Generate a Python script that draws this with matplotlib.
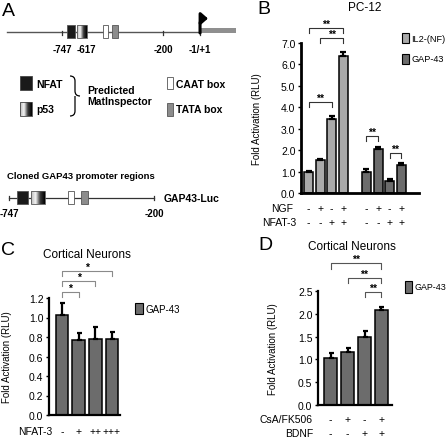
import numpy as np
import matplotlib
matplotlib.use('Agg')
import matplotlib.pyplot as plt
from matplotlib.patches import Rectangle, FancyArrowPatch, PathPatch
from matplotlib.path import Path
from matplotlib.colors import LinearSegmentedColormap

plt.rcParams['font.family'] = ['Liberation Sans', 'DejaVu Sans']

# ---------------- data ----------------
element_names = ['NFAT', 'p53', 'CAAT box', 'TATA box']
element_start = [-718, -664, -526, -476]
element_end = [-676, -612, -500, -447]
site_ticks = [-747, -617, -200, -1]
site_labels = ['-747', '-617', '-200', '-1/+1']
promoter_start = -1044
transcript_end = 193
cloned_range = [-747, -200]
cloned_labels = ['-747', '-200']

b_series = ['IL2-(NF)', 'GAP-43']
b_ngf = ['-', '+', '-', '+']
b_nfat = ['-', '-', '+', '+']
il2_values = [0.99, 1.54, 3.45, 6.38]
il2_err = [0.03, 0.05, 0.15, 0.2]
gap_b_values = [0.99, 2.05, 0.55, 1.31]
gap_b_err = [0.12, 0.08, 0.1, 0.07]
b_yticks = [0, 1, 2, 3, 4, 5, 6, 7]

c_nfat = ['-', '+', '++', '+++']
c_values = [1.03, 0.765, 0.775, 0.78]
c_err = [0.12, 0.08, 0.125, 0.07]
c_yticks = [0.0, 0.2, 0.4, 0.6, 0.8, 1.0, 1.2]

d_csa = ['-', '+', '-', '+']
d_bdnf = ['-', '-', '+', '+']
d_values = [1.02, 1.17, 1.49, 2.08]
d_err = [0.13, 0.07, 0.13, 0.07]
d_yticks = [0.0, 0.5, 1.0, 1.5, 2.0, 2.5]

# ---------------- figure ----------------
W, H = 448, 439
fig = plt.figure(figsize=(W / 100, H / 100), dpi=100)

def fpos(x0, y0, x1, y1):
    return [x0 / W, 1 - y1 / H, (x1 - x0) / W, (y1 - y0) / H]

ov = fig.add_axes([0, 0, 1, 1], zorder=5)
ov.set_facecolor('none')
ov.set_xlim(0, W)
ov.set_ylim(H, 0)
ov.axis('off')

LIGHT = '#aaaaaa'
DARK = '#6c6c6c'
grad_cmap = LinearSegmentedColormap.from_list('g', ['#b8b8b8', '#f4f4f4', '#3a3a3a', '#000000'])
grad = np.linspace(0, 1, 64).reshape(1, -1)
elem_colors = ['#1a1a1a', None, '#ffffff', '#8c8c8c']
FS = 7.5

# ---------------- panel A: promoter diagram ----------------
axA = fig.add_axes(fpos(0, 10, 240, 60))
axA.set_facecolor('none')
axA.axis('off')
axA.plot([promoter_start, site_ticks[-1]], [33, 33], color='#555555', lw=1.0, zorder=1)
axA.add_patch(Rectangle((site_ticks[-1], 29), transcript_end - site_ticks[-1], 5,
                        facecolor='#8f8f8f', edgecolor='none', zorder=1))
for t, lab in zip(site_ticks, site_labels):
    axA.plot([t, t], [32, 36], color='#333333', lw=0.9, zorder=1)
    axA.text(t, 50, lab, ha='center', va='center', fontsize=7, fontweight='bold')
for s, e, c in zip(element_start, element_end, elem_colors):
    if c is None:
        axA.imshow(grad, extent=[s, e, 39, 26], aspect='auto', cmap=grad_cmap, zorder=2)
        axA.add_patch(Rectangle((s, 26), e - s, 13, facecolor='none', edgecolor='#555555', lw=0.6, zorder=3))
    else:
        axA.add_patch(Rectangle((s, 26), e - s, 13, facecolor=c, edgecolor='#555555', lw=0.6, zorder=3))
axA.set_xlim(-1082, 215)
axA.set_ylim(60, 10)
arrow_path = Path([(site_ticks[-1], 34), (site_ticks[-1], 25), (site_ticks[-1], 19.5), (42, 19.5)],
                  [Path.MOVETO, Path.LINETO, Path.CURVE3, Path.CURVE3])
axA.add_patch(FancyArrowPatch(path=arrow_path, arrowstyle='-|>,head_length=1.6,head_width=1.4',
                              color='black', lw=2.2, mutation_scale=2.5, zorder=4))

# legend of panel A
ov.add_patch(Rectangle((20, 77), 12, 14, facecolor=elem_colors[0], edgecolor='#444444', lw=0.6))
ov.text(36, 84.5, element_names[0], fontsize=FS, fontweight='bold', va='center')
ov.imshow(grad, extent=[20, 32, 117, 103], aspect='auto', cmap=grad_cmap)
ov.add_patch(Rectangle((20, 103), 12, 14, facecolor='none', edgecolor='#444444', lw=0.6))
ov.text(36, 110.5, element_names[1], fontsize=FS, fontweight='bold', va='center')
brace = Path([(70, 77), (75, 77), (75, 82), (75, 92), (75, 97), (80, 97),
              (75, 97), (75, 102), (75, 112), (75, 117), (70, 117)],
             [Path.MOVETO, Path.CURVE3, Path.CURVE3, Path.LINETO, Path.CURVE3, Path.CURVE3,
              Path.MOVETO, Path.CURVE3, Path.LINETO, Path.CURVE3, Path.CURVE3])
ov.add_patch(PathPatch(brace, facecolor='none', edgecolor='black', lw=0.9))
ov.text(87, 90.5, 'Predicted', fontsize=FS, fontweight='bold', va='center')
ov.text(87, 102, 'MatInspector', fontsize=FS, fontweight='bold', va='center')
ov.add_patch(Rectangle((167, 78), 6, 12, facecolor=elem_colors[2], edgecolor='#555555', lw=0.6))
ov.text(176, 84.5, element_names[2], fontsize=FS, fontweight='bold', va='center')
ov.add_patch(Rectangle((167, 104), 6, 13, facecolor=elem_colors[3], edgecolor='#555555', lw=0.6))
ov.text(176, 110.5, element_names[3], fontsize=FS, fontweight='bold', va='center')

# cloned region diagram
ov.text(7, 177, 'Cloned GAP43 promoter regions', fontsize=6.8, fontweight='bold', va='center')
axA2 = fig.add_axes(fpos(0, 185, 240, 222))
axA2.set_facecolor('none')
axA2.axis('off')
axA2.plot(cloned_range, [198.5, 198.5], color='#333333', lw=0.9, zorder=1)
for t in cloned_range:
    axA2.plot([t, t], [196.5, 200.5], color='#333333', lw=0.9)
for t, lab in zip(cloned_range, cloned_labels):
    axA2.text(t, 214, lab, ha='center', va='center', fontsize=7, fontweight='bold')
for s, e, c in zip(element_start, element_end, elem_colors):
    if c is None:
        axA2.imshow(grad, extent=[s, e, 205, 192], aspect='auto', cmap=grad_cmap, zorder=2)
        axA2.add_patch(Rectangle((s, 192), e - s, 13, facecolor='none', edgecolor='#555555', lw=0.6, zorder=3))
    else:
        axA2.add_patch(Rectangle((s, 192), e - s, 13, facecolor=c, edgecolor='#555555', lw=0.6, zorder=3))
axA2.set_xlim(-781, 125)
axA2.set_ylim(222, 185)
ov.text(164, 199, 'GAP43-Luc', fontsize=FS, fontweight='bold', va='center')
ov.set_xlim(0, W)
ov.set_ylim(H, 0)

# ---------------- helpers ----------------
def style_axis(ax, lw):
    ax.set_facecolor('none')
    for s in ['top', 'right']:
        ax.spines[s].set_visible(False)
    ax.spines['left'].set_linewidth(lw)
    ax.spines['bottom'].set_linewidth(lw)
    ax.tick_params(axis='y', direction='out', length=2.5, width=1, labelsize=FS, pad=1.5)
    ax.tick_params(axis='x', length=0, labelbottom=False)

def bracket(ax, x0, x1, y, h, label, color):
    ax.plot([x0, x0, x1, x1], [y - h, y, y, y - h], color=color, lw=0.8, clip_on=False)
    ax.annotate(label, xy=((x0 + x1) / 2, y), xytext=(0, 1.0), textcoords='offset points',
                ha='center', va='baseline', fontsize=7.5, fontweight='bold', annotation_clip=False)

def bars(ax, x, vals, errs, color, width, cap):
    ax.bar(x, vals, width=width, color=color, edgecolor='black', linewidth=1.1, zorder=2)
    ax.errorbar(x, vals, yerr=[np.zeros(len(vals)), errs], fmt='none', ecolor='black',
                elinewidth=1.6, capsize=cap, capthick=1.6, zorder=3)

# ---------------- panel B ----------------
axB = fig.add_axes(fpos(301, 44, 419, 194))
xb1 = np.arange(len(il2_values))
xb2 = np.arange(len(gap_b_values)) + len(il2_values) + 1
bars(axB, xb1, il2_values, il2_err, LIGHT, 0.78, 2.4)
bars(axB, xb2, gap_b_values, gap_b_err, DARK, 0.78, 2.4)
axB.set_xlim(-0.65, 9.53)
axB.set_ylim(0, 7)
axB.set_yticks(b_yticks)
axB.set_yticklabels([f'{v:.1f}' for v in b_yticks])
style_axis(axB, 2.0)
axB.set_ylabel('Fold Activation (RLU)', fontsize=7)
axB.yaxis.set_label_coords(-0.33, 0.5)
bracket(axB, xb1[0], xb1[3], 7.7, 0.25, '**', '#333333')
bracket(axB, xb1[1], xb1[3], 7.23, 0.25, '**', '#333333')
bracket(axB, xb1[0], xb1[2], 4.25, 0.25, '**', '#333333')
bracket(axB, xb2[0], xb2[1], 2.66, 0.25, '**', '#333333')
bracket(axB, xb2[2], xb2[3], 1.87, 0.25, '**', '#333333')
xall = np.concatenate([xb1, xb2])
for xi, s in zip(xall, b_ngf + b_ngf):
    axB.text(xi, -0.1, s, transform=axB.get_xaxis_transform(), ha='center', va='center', fontsize=FS)
for xi, s in zip(xall, b_nfat + b_nfat):
    axB.text(xi, -0.193, s, transform=axB.get_xaxis_transform(), ha='center', va='center', fontsize=FS)
ov.text(293, 209, 'NGF', ha='right', va='center', fontsize=FS)
ov.text(296, 223, 'NFAT-3', ha='right', va='center', fontsize=FS)
ov.text(365, 8, 'PC-12', ha='center', va='center', fontsize=8.5)
ov.add_patch(Rectangle((402, 34), 7, 9.5, facecolor=LIGHT, edgecolor='black', lw=0.8))
ov.text(411.5, 39, b_series[0], va='center', fontsize=6.6)
ov.add_patch(Rectangle((402, 55), 7, 9.5, facecolor=DARK, edgecolor='black', lw=0.8))
ov.text(411.5, 60, b_series[1], va='center', fontsize=6.6)

# ---------------- panel C ----------------
axC = fig.add_axes(fpos(49, 299, 120, 416))
xc = np.arange(len(c_values))
bars(axC, xc, c_values, c_err, DARK, 0.75, 1.8)
axC.set_xlim(-0.78, 3.48)
axC.set_ylim(0, 1.2)
axC.set_yticks(c_yticks)
axC.set_yticklabels([f'{v:.1f}' for v in c_yticks])
style_axis(axC, 1.6)
axC.set_ylabel('Fold Activation (RLU)', fontsize=7)
axC.yaxis.set_label_coords(-0.52, 0.5)
bracket(axC, xc[0], xc[1], 1.26, 0.05, '*', '#8a8a8a')
bracket(axC, xc[0], xc[2], 1.374, 0.05, '*', '#8a8a8a')
bracket(axC, xc[0], xc[3], 1.477, 0.05, '*', '#8a8a8a')
for xi, s in zip(xc, c_nfat):
    axC.text(xi, -0.137, s, transform=axC.get_xaxis_transform(), ha='center', va='center', fontsize=FS)
ov.text(52, 432, 'NFAT-3', ha='right', va='center', fontsize=FS)
ov.text(87, 255, 'Cortical Neurons', ha='center', va='center', fontsize=8.5)
ov.add_patch(Rectangle((135, 304), 7.5, 11, facecolor=DARK, edgecolor='black', lw=0.8))
ov.text(146, 310, 'GAP-43', va='center', fontsize=7)

# ---------------- panel D ----------------
axD = fig.add_axes(fpos(318, 292, 392, 406))
xd = np.arange(len(d_values))
bars(axD, xd, d_values, d_err, DARK, 0.76, 1.8)
axD.set_xlim(-0.74, 3.62)
axD.set_ylim(0, 2.5)
axD.set_yticks(d_yticks)
axD.set_yticklabels([f'{v:.1f}' for v in d_yticks])
style_axis(axD, 1.6)
axD.set_ylabel('Fold Activation (RLU)', fontsize=7)
axD.yaxis.set_label_coords(-0.54, 0.5)
bracket(axD, xd[2], xd[3], 2.48, 0.12, '**', '#555555')
bracket(axD, xd[1], xd[3], 2.785, 0.12, '**', '#555555')
bracket(axD, xd[0], xd[3], 3.11, 0.12, '**', '#555555')
for xi, s in zip(xd, d_csa):
    axD.text(xi, -0.123, s, transform=axD.get_xaxis_transform(), ha='center', va='center', fontsize=FS)
for xi, s in zip(xd, d_bdnf):
    axD.text(xi, -0.246, s, transform=axD.get_xaxis_transform(), ha='center', va='center', fontsize=FS)
ov.text(313, 420, 'CsA/FK506', ha='right', va='center', fontsize=FS)
ov.text(313, 434, 'BDNF', ha='right', va='center', fontsize=FS)
ov.text(352, 247, 'Cortical Neurons', ha='center', va='center', fontsize=8.5)
ov.add_patch(Rectangle((405, 282), 7, 12, facecolor=DARK, edgecolor='black', lw=0.8))
ov.text(414.5, 288, 'GAP-43', va='center', fontsize=6.4)

# panel letters
ov.text(2, 11, 'A', fontsize=14, va='center')
ov.text(257, 9, 'B', fontsize=14, va='center')
ov.text(1, 251, 'C', fontsize=14, va='center')
ov.text(258, 246, 'D', fontsize=14, va='center')

fig.savefig('out.png', dpi=100)
